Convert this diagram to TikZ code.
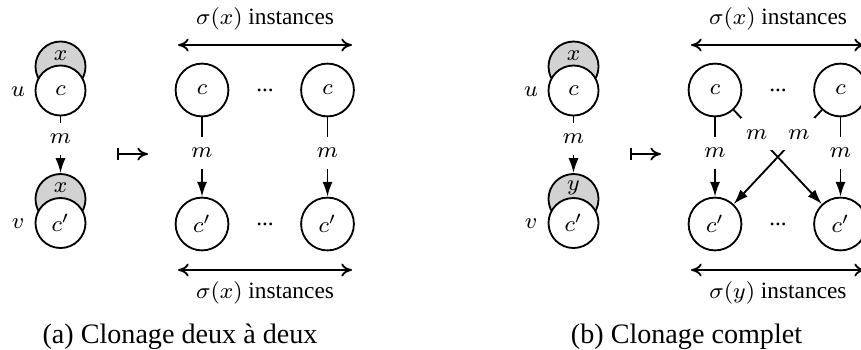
\documentclass[tikz,border=0pt]{standalone}
\usepackage{fontspec}
\setmainfont{Liberation Serif}
\usetikzlibrary{arrows.meta}

\begin{document}
\begin{tikzpicture}[x=0.0125cm, y=-0.0125cm, line width=0.65pt,
	every node/.style={font=\fontsize{8.3}{10}\selectfont},
	g/.style={draw, circle, fill=gray!35, minimum size=0.625cm, inner sep=0pt},
	w/.style={draw, circle, fill=white, minimum size=0.625cm, inner sep=0pt},
	cl/.style={draw, circle, minimum size=0.66cm, inner sep=0pt},
	lab/.style={fill=white, minimum size=0.4cm, inner sep=0pt},
	arr/.style={-{Latex[length=5.3pt,width=3.6pt]}},
	span/.style={{To[length=3.8pt,width=4.6pt]}-{To[length=3.8pt,width=4.6pt]}},
	captxt/.style={font=\fontsize{10}{12}\selectfont}]
	\useasboundingbox (0,0) rectangle (861,349);
	\clip (0,0) rectangle (861,349);
	% (a) pairwise cloning
	\node[g] (uXa) at (60.5,66.5) {};
	\node (uXta) at (60.5,56) {$x$};
	\node[w] (ua) at (60.5,90.5) {$c$};
	\node (ula) at (18,92) {$u$};
	\node[g] (vXa) at (60.5,199) {};
	\node (vXta) at (60.5,188) {$x$};
	\node[w] (va) at (60.5,223) {$c'$};
	\node (vla) at (18,224) {$v$};
	\draw[arr] (ua) -- node[lab, pos=0.4] {$m$} (vXa);
	\coordinate (ma1) at (117,154);
	\coordinate (ma2) at (148,154);
	\draw[{Bar[width=4.3pt]}-{To[length=3.8pt,width=4.6pt]}] (ma1) -- (ma2);
	\node[cl] (ca1) at (202,90) {$c$};
	\node[cl] (ca2) at (327.5,90) {$c$};
	\node (cda) at (265,90) {...};
	\node[cl] (da1) at (202,224) {$c'$};
	\node[cl] (da2) at (327.5,224) {$c'$};
	\node (dda) at (265,224) {...};
	\draw[arr] (ca1) -- node[lab, pos=0.45] {$m$} (da1);
	\draw[arr] (ca2) -- node[lab, pos=0.45] {$m$} (da2);
	\coordinate (ta1) at (178,45);
	\coordinate (ta2) at (352,45);
	\draw[span] (ta1) -- (ta2);
	\node (tta) at (265,19) {$\sigma(x)$ instances};
	\coordinate (ba1) at (178,270);
	\coordinate (ba2) at (352,270);
	\draw[span] (ba1) -- (ba2);
	\node (bta) at (265,293) {$\sigma(x)$ instances};
	\node[captxt] (capa) at (180,336.5) {(a) Clonage deux à deux};
	% (b) complete cloning
	\node[g] (uXb) at (573.5,66.5) {};
	\node (uXtb) at (573.5,56) {$x$};
	\node[w] (ub) at (573.5,90.5) {$c$};
	\node (ulb) at (531,92) {$u$};
	\node[g] (vYb) at (573.5,199) {};
	\node (vYtb) at (573.5,188) {$y$};
	\node[w] (vb) at (573.5,223) {$c'$};
	\node (vlb) at (531,224) {$v$};
	\draw[arr] (ub) -- node[lab, pos=0.4] {$m$} (vYb);
	\coordinate (mb1) at (630,154);
	\coordinate (mb2) at (661,154);
	\draw[{Bar[width=4.3pt]}-{To[length=3.8pt,width=4.6pt]}] (mb1) -- (mb2);
	\node[cl] (cb1) at (715,90) {$c$};
	\node[cl] (cb2) at (840.5,90) {$c$};
	\node (cdb) at (778,90) {...};
	\node[cl] (db1) at (715,224) {$c'$};
	\node[cl] (db2) at (840.5,224) {$c'$};
	\node (ddb) at (778,224) {...};
	\draw[arr] (cb1) -- node[lab, pos=0.45] {$m$} (db1);
	\draw[arr] (cb2) -- node[lab, pos=0.45] {$m$} (db2);
	\draw[arr] (cb1) -- node[lab, pos=0.26] {$m$} (db2);
	\draw[arr] (cb2) -- node[lab, pos=0.26] {$m$} (db1);
	\coordinate (tb1) at (691,45);
	\coordinate (tb2) at (865,45);
	\draw[span] (tb1) -- (tb2);
	\node (ttb) at (778,19) {$\sigma(x)$ instances};
	\coordinate (bb1) at (691,270);
	\coordinate (bb2) at (865,270);
	\draw[span] (bb1) -- (bb2);
	\node (btb) at (778,293) {$\sigma(y)$ instances};
	\node[captxt] (capb) at (686.5,336.5) {(b) Clonage complet};
\end{tikzpicture}
\end{document}
